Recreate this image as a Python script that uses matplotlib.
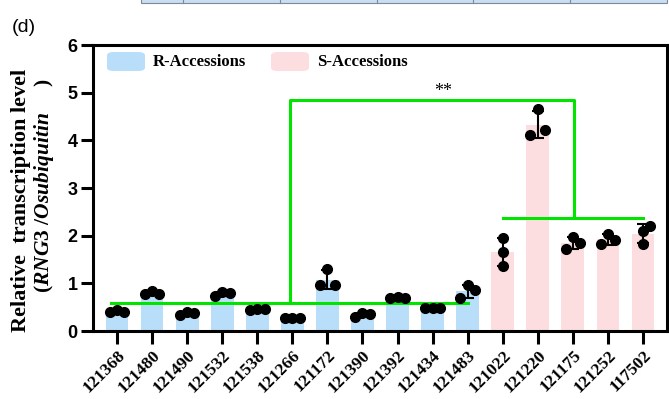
import numpy as np
import matplotlib.pyplot as plt
from matplotlib.patches import FancyBboxPatch, Rectangle
from matplotlib.lines import Line2D

plt.rcParams['mathtext.fontset'] = 'custom'
plt.rcParams['mathtext.it'] = 'Liberation Serif:italic:bold'
plt.rcParams['mathtext.rm'] = 'Liberation Serif:bold'

# accessions and their resistance group
accessions = ['121368', '121480', '121490', '121532', '121538', '121266',
              '121172', '121390', '121392', '121434', '121483',
              '121022', '121220', '121175', '121252', '117502']
groups = ['R'] * 11 + ['S'] * 5

# three biological replicates per accession
rep_a = [0.40, 0.77, 0.34, 0.73, 0.45, 0.27, 0.97, 0.30, 0.70, 0.49, 0.69,
         1.96, 4.11, 1.73, 1.82, 2.10]
rep_b = [0.45, 0.84, 0.40, 0.82, 0.46, 0.27, 1.31, 0.37, 0.71, 0.49, 0.96,
         1.66, 4.65, 1.98, 2.03, 1.82]
rep_c = [0.39, 0.78, 0.38, 0.79, 0.46, 0.27, 0.96, 0.36, 0.70, 0.49, 0.85,
         1.36, 4.22, 1.85, 1.91, 2.21]

bracket_top = 4.85
sig_label = '**'

reps = np.array([rep_a, rep_b, rep_c])
means = reps.mean(axis=0)
sds = reps.std(axis=0, ddof=1)
x = np.arange(len(accessions))
is_r = np.array([g == 'R' for g in groups])
r_level = means[is_r].mean()
s_level = means[~is_r].mean()

col_r = '#b9defa'
col_s = '#fcdde0'
green = '#00e400'

fig = plt.figure(figsize=(6.69, 3.99), dpi=100)
ax = fig.add_axes([0.139, 0.1704, 0.858, 0.7168])

ax.bar(x, means, width=0.65, color=[col_r if r else col_s for r in is_r],
       zorder=1)
ax.errorbar(x, means, yerr=sds, fmt='none', ecolor='black', elinewidth=1.5,
            capsize=4, capthick=1.5, zorder=3)

# scatter the replicates
jit = np.array([-0.21, 0.0, 0.21])
for i in range(len(accessions)):
    offs = jit.copy()
    if accessions[i] == '121022':
        offs = np.array([0.0, 0.0, 0.0])
    elif accessions[i] == '117502':
        offs = np.array([0.0, 0.0, 0.21])
    ax.plot(x[i] + offs, reps[:, i], 'o', color='black', markersize=7,
            zorder=4, clip_on=False)

# group means and significance bracket
ax.plot([-0.16, 10], [r_level, r_level], color=green, lw=2.2, zorder=2)
ax.plot([11, 15], [s_level, s_level], color=green, lw=2.2, zorder=2)
ax.plot([4.93, 4.93, 13.02, 13.02], [r_level, bracket_top, bracket_top, s_level],
        color=green, lw=2.2, zorder=2)
ax.text(9.3, 5.03, sig_label, ha='center', va='center', fontsize=13,
        family='Liberation Serif')

ax.set_xlim(-0.684, 15.684)
ax.set_ylim(0, 6)
ax.set_yticks(range(0, 7))
ax.set_xticks(x)
ax.set_xticklabels(accessions, rotation=45, ha='right', va='top',
                   rotation_mode='anchor', family='Liberation Serif',
                   fontweight='bold', fontsize=12.5)
for lab in ax.get_yticklabels():
    lab.set_family('Liberation Sans')
    lab.set_fontweight('bold')
    lab.set_fontsize(13)
ax.tick_params(axis='both', width=2.2, length=9, pad=2)
ax.tick_params(axis='x', pad=2.5)
for s in ax.spines.values():
    s.set_linewidth(2.2)

# legend boxes
def legend_item(px, label, color):
    y0 = (331 - 71) / 286
    h = 19 / 286
    x0 = (px - 93) / 574
    w = 38 / 574
    ax.add_patch(FancyBboxPatch((x0, y0), w, h, boxstyle='round,pad=0,rounding_size=0.012',
                                transform=ax.transAxes, facecolor=color,
                                edgecolor='none', clip_on=False))
    ax.text(x0 + w + 8 / 574, y0 + h / 2, label, transform=ax.transAxes,
            ha='left', va='center', family='Liberation Serif',
            fontweight='bold', fontsize=12)

legend_item(107, 'R-Accessions', col_r)
legend_item(271, 'S-Accessions', col_s)

# axis title
fig.text(21 / 669, 1 - 200 / 399, 'Relative  transcription level', rotation=90,
         ha='center', va='center', family='Liberation Serif',
         fontweight='bold', fontsize=16)
fig.text(44 / 669, 1 - 185 / 399, r'($RNG3\ /Osubiquitin$     )', rotation=90,
         ha='center', va='center', family='Liberation Serif',
         fontweight='bold', fontsize=15.5)

# panel letter
fig.text(12 / 669, 1 - 28 / 399, '(d)', ha='left', va='center',
         family='Liberation Sans', fontsize=14)

# bottom edge of the table above
fig.patches.append(Rectangle((141 / 669, 1 - 3 / 399), 526 / 669, 5 / 399,
                             transform=fig.transFigure, facecolor='#c9def2',
                             edgecolor='#7f8a96', lw=0.8))
for px in [183, 280, 377, 473, 570]:
    fig.lines.append(Line2D([px / 669, px / 669], [1 - 3 / 399, 1],
                            transform=fig.transFigure, color='#7f8a96', lw=0.8))

fig.savefig('out.png', dpi=100)
